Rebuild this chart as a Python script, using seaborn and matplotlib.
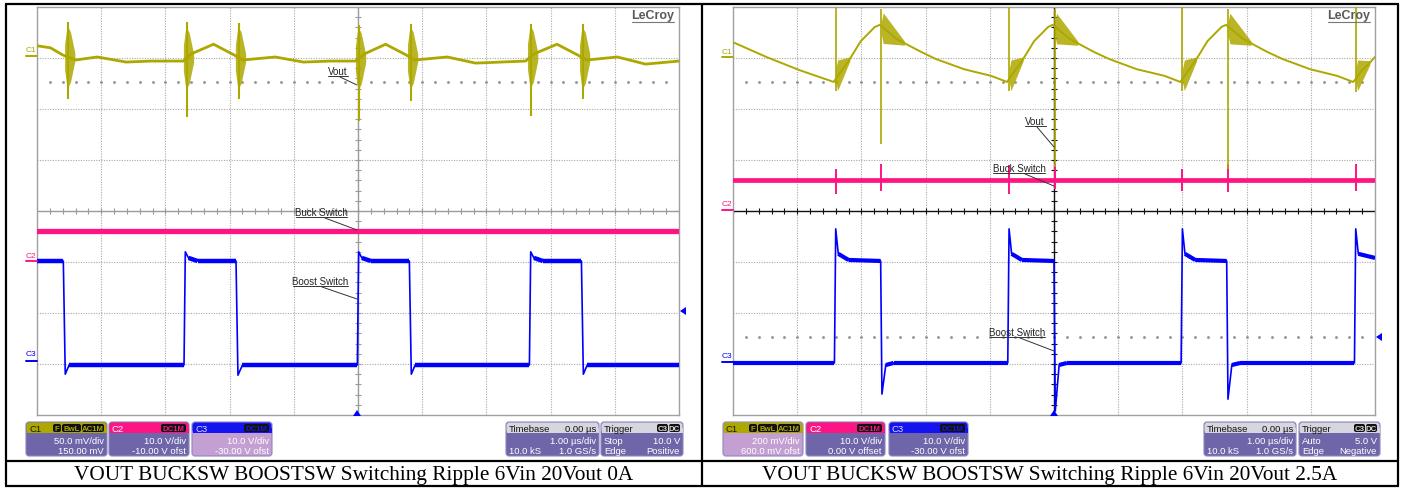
import numpy as np
import pandas as pd
import matplotlib
matplotlib.use('Agg')
import matplotlib.pyplot as plt
from matplotlib.patches import FancyBboxPatch, Rectangle, Polygon
import seaborn as sns

# time in us (screen centre = 0), level in divisions from screen centre
# ---------- left capture: 6Vin 20Vout 0A ----------
LEFT_VOUT_T = [-5.00, -4.79, -4.60, -4.40, -4.06, -3.61, -3.23, -2.72, -2.60, -2.25,
               -1.93, -1.80, -1.29, -0.85, -0.43, -0.04, 0.10, 0.43, 0.75, 0.88,
               1.39, 1.83, 2.61, 2.74, 3.10, 3.42, 3.56, 4.04, 4.48, 5.00]
LEFT_VOUT_V = [3.24, 3.20, 3.06, 2.96, 3.02, 2.92, 2.94, 2.94, 3.08, 3.27,
               3.06, 2.96, 3.02, 2.92, 2.94, 2.94, 3.08, 3.27, 3.06, 2.96,
               3.02, 2.90, 2.94, 3.08, 3.27, 3.06, 2.96, 3.02, 2.88, 2.94]
LEFT_SPIKE_T = [-4.52, -2.67, -1.86, 0.01, 0.82, 2.69, 3.50]
LEFT_SPIKE_TOP = [3.71, 3.71, 3.69, 3.65, 3.67, 3.67, 3.67]
LEFT_SPIKE_BOT = [2.20, 1.84, 2.20, 1.76, 2.16, 1.86, 2.20]
LEFT_BUCK_V = -0.39
LEFT_BOOST_T = [-5.00, -4.59, -4.56, -4.50, -2.71, -2.69, -2.64, -2.50, -1.90, -1.87,
                -1.80, -0.01, 0.01, 0.06, 0.20, 0.80, 0.83, 0.89, 2.67, 2.69,
                2.74, 2.88, 3.48, 3.51, 3.57, 5.00]
LEFT_BOOST_V = [-0.98, -0.98, -3.20, -3.02, -3.02, -0.80, -0.92, -0.98, -0.98, -3.22,
                -3.02, -3.02, -0.80, -0.92, -0.98, -0.98, -3.20, -3.02, -3.02, -0.80,
                -0.92, -0.98, -0.98, -3.20, -3.02, -3.02]

# ---------- right capture: 6Vin 20Vout 2.5A ----------
RIGHT_VOUT_T = [-5.00, -4.48, -3.96, -3.43, -3.40, -3.31, -3.20, -3.01, -2.79, -2.71,
                -2.45, -2.07, -1.84, -1.40, -0.98, -0.73, -0.70, -0.61, -0.50, -0.31,
                -0.09, -0.02, 0.25, 0.62, 0.86, 1.29, 1.72, 1.97, 2.00, 2.09,
                2.20, 2.39, 2.61, 2.68, 2.95, 3.32, 3.56, 3.99, 4.41, 4.66,
                4.70, 4.79, 4.90, 5.00]
RIGHT_VOUT_V = [3.31, 3.02, 2.76, 2.53, 2.59, 2.75, 2.94, 3.33, 3.61, 3.65,
                3.37, 3.12, 2.98, 2.78, 2.65, 2.53, 2.59, 2.75, 2.94, 3.33,
                3.61, 3.65, 3.37, 3.12, 2.98, 2.78, 2.65, 2.53, 2.59, 2.75,
                2.94, 3.33, 3.61, 3.65, 3.37, 3.12, 2.98, 2.78, 2.65, 2.53,
                2.59, 2.75, 2.88, 3.02]
RIGHT_SPIKE_T = [-3.40, -2.69, -0.70, 0.01, 2.00, 2.71, 4.70]
RIGHT_SPIKE_TOP = [4.00, 3.96, 4.00, 3.96, 4.00, 3.96, 4.00]
RIGHT_SPIKE_BOT = [2.35, 1.31, 2.35, 0.86, 2.35, 0.82, 2.33]
RIGHT_BUCK_V = 0.61
RIGHT_BUCK_SPIKE_TOP = [0.82, 0.92, 0.90, 0.92, 0.82, 0.92, 0.92]
RIGHT_BUCK_SPIKE_BOT = [0.33, 0.39, 0.33, 0.43, 0.39, 0.37, 0.39]
RIGHT_BOOST_T = [-5.00, -3.42, -3.40, -3.36, -3.20, -2.70, -2.68, -2.62, -2.50, -0.72,
                 -0.70, -0.66, -0.50, 0.00, 0.02, 0.08, 0.20, 1.98, 2.00, 2.04,
                 2.20, 2.69, 2.71, 2.77, 2.90, 4.68, 4.70, 4.74, 5.00]
RIGHT_BOOST_V = [-2.98, -2.98, -0.35, -0.84, -0.96, -0.98, -3.59, -3.02, -2.98, -2.98,
                 -0.35, -0.84, -0.96, -0.98, -3.92, -3.02, -2.98, -2.98, -0.35, -0.84,
                 -0.96, -0.98, -3.69, -3.02, -2.98, -2.98, -0.35, -0.84, -0.92]

CAPTIONS = ["VOUT BUCKSW BOOSTSW Switching Ripple 6Vin 20Vout 0A",
            "VOUT BUCKSW BOOSTSW Switching Ripple 6Vin 20Vout 2.5A"]
CH_SETTINGS = [
    [("50.0 mV/div", "150.00 mV"), ("10.0 V/div", "-10.00 V ofst"), ("10.0 V/div", "-30.00 V ofst")],
    [("200 mV/div", "600.0 mV ofst"), ("10.0 V/div", "0.00 V offset"), ("10.0 V/div", "-30.00 V ofst")],
]
TRIGGER = [("Stop", "10.0 V", "Positive"), ("Auto", "5.0 V", "Negative")]

C_VOUT = '#ADA800'
C_BUCK = '#FF1483'
C_BOOST = '#0000FF'
C_BODY = '#6E66A8'
C_BODY_SEL = '#C49FD2'
GRID_C = '#A8A8A8'

W, H = 1405, 489
sns.set_theme(style='white')
plt.rcParams['font.family'] = ['Liberation Sans', 'DejaVu Sans']

fig = plt.figure(figsize=(W / 100, H / 100), dpi=100)


def trace(ax, t, v, color, lw, band_lw=None):
    df = pd.DataFrame({'t': t, 'v': v})
    sns.lineplot(data=df, x='t', y='v', sort=False, estimator=None,
                 color=color, lw=lw, ax=ax, zorder=4)
    if band_lw:
        # noise band on the flat parts only
        for i in range(len(t) - 1):
            if t[i + 1] - t[i] > 0.08:
                ax.plot([t[i], t[i + 1]], [v[i], v[i + 1]], color=color,
                        lw=band_lw, solid_capstyle='butt', zorder=4)


def burst(ax, t, c, xs, hs, color):
    # ringing burst drawn as a tapered envelope round the trace level c
    x = [t + d for d in xs]
    ax.fill_between(x, [c - h for h in hs], [c + h for h in hs], color=color,
                    alpha=0.85, lw=0, zorder=5)


def screen(x0, dark):
    ax = fig.add_axes([x0 / W, (H - 416) / H, 642 / W, 408 / H])
    ax.set_xlim(-5, 5)
    ax.set_ylim(-4, 4)
    for x in range(-4, 5):
        if x != 0:
            ax.axvline(x, color=GRID_C, lw=0.8, ls=(0, (1, 1.3)), zorder=1)
    for y in range(-3, 4):
        if y != 0:
            ax.axhline(y, color=GRID_C, lw=0.8, ls=(0, (1, 1.3)), zorder=1)
    axc = '#111111' if dark else '#9A9A9A'
    ax.axhline(0, color=axc, lw=1, zorder=2)
    ax.axvline(0, color=axc, lw=1, zorder=2)
    ax.vlines(np.arange(-5, 5.01, 0.2), -0.06, 0.06, color=axc, lw=0.8, zorder=2)
    ax.hlines(np.arange(-4, 4.01, 0.2), -0.05, 0.05, color=axc, lw=0.8, zorder=2)
    ax.set_xticks([])
    ax.set_yticks([])
    for s in ax.spines.values():
        s.set_color('#A0A0A0')
        s.set_linewidth(1)
    return ax


def ref_dots(ax, level):
    xs = np.arange(-4.8, 5, 0.2)
    ax.plot(xs, np.full(len(xs), level), ls='none', marker='o', ms=1.1,
            color='#999999', zorder=1)


def finish(ax):
    ax.set_xlabel('')
    ax.set_ylabel('')


# ---------- left screen ----------
axl = screen(37, dark=False)
ref_dots(axl, 2.53)
axl.axhline(LEFT_BUCK_V, color=C_BUCK, lw=3.8, zorder=3)
trace(axl, LEFT_BOOST_T, LEFT_BOOST_V, C_BOOST, 1.2, band_lw=3.2)
trace(axl, LEFT_VOUT_T, LEFT_VOUT_V, C_VOUT, 2.0)
axl.vlines(LEFT_SPIKE_T, LEFT_SPIKE_BOT, LEFT_SPIKE_TOP, color=C_VOUT, lw=1.5, zorder=5)
for t in LEFT_SPIKE_T:
    c = np.interp(t, LEFT_VOUT_T, LEFT_VOUT_V)
    burst(axl, t, c, [-0.05, -0.01, 0.04, 0.11], [0.25, 0.62, 0.5, 0.08], C_VOUT)
finish(axl)

# ---------- right screen ----------
axr = screen(733, dark=True)
ref_dots(axr, 2.53)
ref_dots(axr, -2.47)
axr.axhline(RIGHT_BUCK_V, color=C_BUCK, lw=3.4, zorder=3)
axr.vlines(RIGHT_SPIKE_T, RIGHT_BUCK_SPIKE_BOT, RIGHT_BUCK_SPIKE_TOP, color=C_BUCK, lw=1.4, zorder=3)
trace(axr, RIGHT_BOOST_T, RIGHT_BOOST_V, C_BOOST, 1.2, band_lw=3.0)
trace(axr, RIGHT_VOUT_T, RIGHT_VOUT_V, C_VOUT, 1.4)
axr.vlines(RIGHT_SPIKE_T, RIGHT_SPIKE_BOT, RIGHT_SPIKE_TOP, color=C_VOUT, lw=1.2, zorder=5)
for i, t in enumerate(RIGHT_SPIKE_T):
    big = i % 2 == 1
    w = 0.36 if big else 0.22
    c = np.interp(t + 0.04, RIGHT_VOUT_T, RIGHT_VOUT_V)
    c2 = np.interp(t + w, RIGHT_VOUT_T, RIGHT_VOUT_V)
    x = [t, t + 0.03, t + w]
    mid = [c, c, c2]
    hs = [0.12, 0.3, 0.04]
    axr.fill_between(x, [m - h for m, h in zip(mid, hs)], [m + h for m, h in zip(mid, hs)],
                     color=C_VOUT, alpha=0.85, lw=0, zorder=5)
finish(axr)

# ---------- overlay in pixel coordinates ----------
axo = fig.add_axes([0, 0, 1, 1])
axo.set_xlim(0, W)
axo.set_ylim(H, 0)
axo.axis('off')
axo.set_zorder(10)
axo.patch.set_alpha(0)

# table borders
for (x_a, y_a, x_b, y_b) in [(5, 5, 1399, 5), (5, 487, 1399, 487), (6, 5, 6, 487),
                             (1398, 5, 1398, 487), (702, 5, 702, 487), (5, 462, 1399, 462)]:
    axo.plot([x_a, x_b], [y_a, y_b], color='black', lw=1.6, solid_capstyle='butt')

for k, ox in enumerate([0, 696]):
    # caption
    axo.text(354 + ox, 475.5, CAPTIONS[k], ha='center', va='center', fontsize=15.3,
             family='Liberation Serif', color='black')
    # LeCroy logo
    axo.text(653 + ox, 15.5, 'LeCroy', ha='center', va='center', fontsize=9,
             color='#5a5a5a', fontweight='bold')
    axo.plot([632 + ox, 674 + ox], [23, 23], color='#777777', lw=0.8)

# channel labels left of the screens
for (x, ty, ly, lab, col) in [(31, 50, 57, 'C1', C_VOUT), (31, 256, 262, 'C2', C_BUCK),
                              (31, 355, 362, 'C3', C_BOOST),
                              (727, 52, 58, 'C1', C_VOUT), (727, 205, 211, 'C2', C_BUCK),
                              (727, 357, 363, 'C3', C_BOOST)]:
    axo.text(x, ty, lab, ha='center', va='center', fontsize=6, color=col)
    axo.plot([x - 5, x + 6], [ly, ly], color=col, lw=1.4)

# trace annotations
for (tx, ty, lab, ux0, ux1, p0, p1) in [
        (338, 72, 'Vout', 328, 348, (340, 78), (357, 86)),
        (321, 213, 'Buck Switch', 296, 347, (325, 219), (357, 231)),
        (320, 282, 'Boost Switch', 293, 348, (322, 288), (357, 300)),
        (1035, 122, 'Vout', 1025, 1046, (1037, 128), (1054, 148)),
        (1019, 169, 'Buck Switch', 993, 1045, (1025, 175), (1054, 187)),
        (1017, 333, 'Boost Switch', 990, 1045, (1020, 339), (1054, 352))]:
    axo.text(tx, ty, lab, ha='center', va='center', fontsize=7, color='#222222')
    axo.plot([ux0, ux1], [ty + 5, ty + 5], color='#333333', lw=0.7)
    axo.plot([p0[0], p1[0]], [p0[1], p1[1]], color='#333333', lw=0.7)

# trigger markers
for pts in [[(680, 312), (686, 308), (686, 316)], [(357, 411), (353, 417), (361, 417)],
            [(1376, 338), (1382, 334), (1382, 342)], [(1054, 411), (1050, 417), (1058, 417)]]:
    axo.add_patch(Polygon(pts, closed=True, fc=C_BOOST, ec='none'))


def rbox(x0, x1, y0, y1, fc, ec='none', lw=0.0, r=3):
    axo.add_patch(FancyBboxPatch((x0, y0), x1 - x0, y1 - y0,
                                 boxstyle=f'round,pad=0,rounding_size={r}',
                                 fc=fc, ec=ec, lw=lw))


def info_box(x0, x1, head_c, head_txt, head_txt_c, body_c, badges, badge_txt_c,
             right_txt=None, lines=()):
    y0, y1 = 423, 457
    rbox(x0, x1, y0, y1, body_c, ec='#8c86c0', lw=0.8)
    rbox(x0 + 0.5, x1 - 0.5, y0 + 0.5, y0 + 11, head_c)
    axo.add_patch(Rectangle((x0 + 0.5, y0 + 6), x1 - x0 - 1, 5, fc=head_c, ec='none'))
    axo.text(x0 + 3, y0 + 6, head_txt, ha='left', va='center', fontsize=6.8, color=head_txt_c)
    bx = x1 - 3
    for lab, bw in reversed(badges):
        rbox(bx - bw, bx, y0 + 2, y0 + 10, '#111111', r=2)
        axo.text(bx - bw / 2, y0 + 6.2, lab, ha='center', va='center', fontsize=5.6,
                 color=badge_txt_c, fontweight='bold')
        bx -= bw + 1
    if right_txt:
        axo.text(x1 - 3, y0 + 6, right_txt, ha='right', va='center', fontsize=6.8,
                 color='#111111')
    for j, (ltxt, rtxt) in enumerate(lines):
        yy = y0 + 18.5 + j * 10.5
        if ltxt:
            axo.text(x0 + 3, yy, ltxt, ha='left', va='center', fontsize=6.8, color='white')
        axo.text(x1 - 3, yy, rtxt, ha='right', va='center', fontsize=6.8, color='white')


panels = [
    dict(ch=[(26, 107), (109, 189), (192, 272)], tb=(506, 599), tr=(601, 683), sel=2),
    dict(ch=[(723, 803), (806, 885), (889, 968)], tb=(1204, 1296), tr=(1299, 1380), sel=0),
]
for k, p in enumerate(panels):
    s = CH_SETTINGS[k]
    bodies = [C_BODY_SEL if i == p['sel'] else C_BODY for i in range(3)]
    info_box(*p['ch'][0], C_VOUT, 'C1', '#1a1a00', bodies[0],
             [('F', 8), ('BwL', 19), ('AC1M', 22)], C_VOUT, lines=[('', s[0][0]), ('', s[0][1])])
    info_box(*p['ch'][1], C_BUCK, 'C2', 'white', bodies[1],
             [('DC1M', 25)], C_BUCK, lines=[('', s[1][0]), ('', s[1][1])])
    info_box(*p['ch'][2], '#1414EE', 'C3', '#d8d8ff', bodies[2],
             [('DC1M', 25)], '#1414EE', lines=[('', s[2][0]), ('', s[2][1])])
    info_box(*p['tb'], '#D6D6DE', 'Timebase', '#111111', C_BODY, [], 'white',
             right_txt='0.00 \u00b5s', lines=[('', '1.00 \u00b5s/div'), ('10.0 kS', '1.0 GS/s')])
    st, lvl, slope = TRIGGER[k]
    info_box(*p['tr'], '#D6D6DE', 'Trigger', '#111111', C_BODY, [('C3', 11), ('DC', 11)],
             '#dddddd', lines=[(st, lvl), ('Edge', slope)])

fig.savefig('out.png', dpi=100, facecolor='white')
